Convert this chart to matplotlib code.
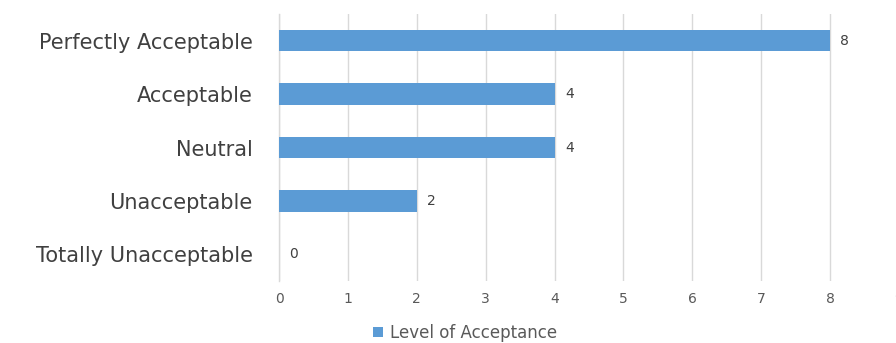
import matplotlib
matplotlib.use("Agg")
import matplotlib.pyplot as plt

categories = ["Totally Unacceptable", "Unacceptable", "Neutral", "Acceptable", "Perfectly Acceptable"]
values = [0, 2, 4, 4, 8]
xticks = [0, 1, 2, 3, 4, 5, 6, 7, 8, 9]
series_name = "Level of Acceptance"

plt.rcParams['font.family'] = ['DejaVu Sans']

fig = plt.figure(figsize=(8.96, 3.43), dpi=100)
ax = fig.add_axes([279/896, 1-281/343, (899-279)/896, (281-14)/343])

bar_color = "#5B9BD5"
bars = ax.barh(categories, values, height=0.4, color=bar_color, label=series_name, zorder=3)
ax.set_xlim(0, 9)
ax.set_ylim(-0.5, len(categories) - 0.5)
ax.set_xticks(xticks)
ax.set_xticklabels([str(t) for t in xticks], color="#595959", fontsize=10)
ax.tick_params(axis='x', length=0, pad=8)
ax.tick_params(axis='y', length=0, pad=19, labelsize=15, labelcolor="#404040")
ax.grid(axis='x', color="#D9D9D9", linewidth=1, zorder=0)
for s in ["top", "right", "bottom"]:
    ax.spines[s].set_visible(False)
ax.spines["left"].set_color("#D9D9D9")
ax.spines["left"].set_linewidth(1)

for b, v in zip(bars, values):
    ax.text(v + 0.15, b.get_y() + b.get_height()/2, str(v), va='center', ha='left',
            fontsize=10, color="#404040")

fig.legend(handles=[bars], labels=[series_name], loc='center', bbox_to_anchor=(465/896, 1-333/343),
           frameon=False, fontsize=12, handlelength=0.6, handleheight=0.6, handletextpad=0.4,
           labelcolor="#595959")

fig.savefig("out.png", dpi=100)
